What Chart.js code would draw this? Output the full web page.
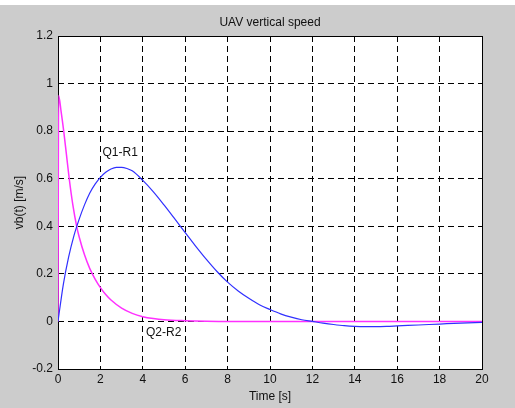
<!DOCTYPE html>
<html>
<head>
<meta charset="utf-8">
<script src="https://cdn.jsdelivr.net/npm/chart.js@4/dist/chart.umd.min.js"></script>
<style>
  html, body { margin: 0; padding: 0; background: #fff; }
  canvas { display: block; }
</style>
</head>
<body>
<canvas id="speedChart" width="515" height="408"></canvas>
<script>
"use strict";

// Vertical speed responses, time in seconds and speed in m/s
const q1Time = [0, 0.25, 0.5, 0.75, 1, 1.25, 1.5, 1.75, 2, 2.25, 2.5, 2.75, 3, 3.25, 3.5, 4, 4.5, 5, 5.5, 6, 6.5, 7, 7.5, 8, 8.5, 9, 9.5, 10, 10.5, 11, 11.5, 12, 12.5, 13, 13.5, 14, 14.5, 15, 15.5, 16, 17, 18, 19, 20];
const q1Speed = [0, 0.155, 0.27, 0.36, 0.43, 0.49, 0.54, 0.577, 0.606, 0.627, 0.641, 0.648, 0.648, 0.643, 0.633, 0.593, 0.545, 0.49, 0.432, 0.373, 0.316, 0.261, 0.21, 0.165, 0.128, 0.097, 0.07, 0.05, 0.032, 0.018, 0.007, 0, -0.007, -0.013, -0.018, -0.021, -0.022, -0.022, -0.021, -0.019, -0.015, -0.011, -0.007, -0.004];

const q2Time = [0, 0.03, 0.15, 0.27, 0.4, 0.53, 0.7, 0.88, 1, 1.25, 1.5, 1.75, 2, 2.25, 2.5, 3, 3.5, 4, 4.5, 5, 6, 7, 8, 20];
const q2Speed = [0, 0.95, 0.88, 0.8, 0.7, 0.6, 0.49, 0.4, 0.355, 0.28, 0.222, 0.178, 0.142, 0.113, 0.09, 0.056, 0.034, 0.02, 0.012, 0.007, 0.003, 0.001, 0, 0];

// Curve labels: text, time, speed
const curveLabels = [
  ["Q1-R1", 2.1, 0.708],
  ["Q2-R2", 4.15, -0.049]
];

const chartTitle = "UAV vertical speed";
const xTitle = "Time [s]";
const yTitle = "vb(t) [m/s]";

const FONT = "'Liberation Sans', Arial, sans-serif";

const toPoints = (xs, ys) => xs.map((x, i) => ({ x: x, y: ys[i] }));

// Gray figure, white axes, box, titles and curve labels
const figurePlugin = {
  id: "figure",
  beforeDraw(chart) {
    const ctx = chart.ctx;
    const a = chart.chartArea;
    ctx.save();
    ctx.fillStyle = "#cccccc";
    ctx.fillRect(0, 0, chart.width, chart.height);
    ctx.fillStyle = "#ffffff";
    ctx.fillRect(0, 0, chart.width, 5);
    ctx.fillRect(a.left, a.top, a.right - a.left, a.bottom - a.top);
    ctx.restore();
  },
  beforeDatasetsDraw(chart) {
    // axes box goes under the curves
    const ctx = chart.ctx;
    const a = chart.chartArea;
    ctx.save();
    ctx.strokeStyle = "#000";
    ctx.lineWidth = 1;
    ctx.strokeRect(Math.round(a.left) + 0.5, Math.round(a.top) + 0.5,
      Math.round(a.right - a.left), Math.round(a.bottom - a.top));
    ctx.restore();
  },
  afterDraw(chart) {
    const ctx = chart.ctx;
    const a = chart.chartArea;
    const xs = chart.scales.x;
    const ys = chart.scales.y;
    ctx.save();
    ctx.fillStyle = "#111";
    ctx.font = "12px " + FONT;
    ctx.textAlign = "center";
    ctx.textBaseline = "middle";
    ctx.fillText(chartTitle, (a.left + a.right) / 2, 23);
    ctx.fillText(xTitle, (a.left + a.right) / 2, 397);

    ctx.save();
    ctx.translate(20, (a.top + a.bottom) / 2);
    ctx.rotate(-Math.PI / 2);
    ctx.fillText(yTitle, 0, 0);
    ctx.restore();

    ctx.textAlign = "left";
    curveLabels.forEach(([text, t, v]) => {
      ctx.fillText(text, xs.getPixelForValue(t), ys.getPixelForValue(v));
    });
    ctx.restore();
  }
};

new Chart(document.getElementById("speedChart"), {
  type: "line",
  data: {
    datasets: [
      {
        label: "Q1-R1",
        data: toPoints(q1Time, q1Speed),
        borderColor: "#3030ff",
        borderWidth: 1.2,
        pointRadius: 0,
        cubicInterpolationMode: "monotone"
      },
      {
        label: "Q2-R2",
        data: toPoints(q2Time, q2Speed),
        borderColor: "#ff30ff",
        borderWidth: 1.5,
        pointRadius: 0,
        cubicInterpolationMode: "monotone"
      }
    ]
  },
  options: {
    responsive: false,
    animation: false,
    layout: { padding: { top: 36, left: 18, right: 33, bottom: 11 } },
    plugins: {
      legend: { display: false },
      title: { display: false },
      tooltip: { enabled: false }
    },
    scales: {
      x: {
        type: "linear",
        min: 0,
        max: 20,
        afterFit(scale) { scale.height = 28; },
        grid: { color: "#000", lineWidth: 1, drawTicks: false },
        border: { display: false, dash: [6, 4] },
        ticks: {
          stepSize: 2,
          autoSkip: false,
          maxRotation: 0,
          padding: 3,
          color: "#111",
          font: { family: FONT, size: 12 }
        }
      },
      y: {
        type: "linear",
        min: -0.2,
        max: 1.2,
        afterFit(scale) { scale.width = 40; },
        grid: { color: "#000", lineWidth: 1, drawTicks: false },
        border: { display: false, dash: [6, 4] },
        ticks: {
          stepSize: 0.2,
          padding: 5,
          color: "#111",
          font: { family: FONT, size: 12 },
          callback: (v) => String(Number(v.toFixed(1)))
        }
      }
    }
  },
  plugins: [figurePlugin]
});
</script>
</body>
</html>
